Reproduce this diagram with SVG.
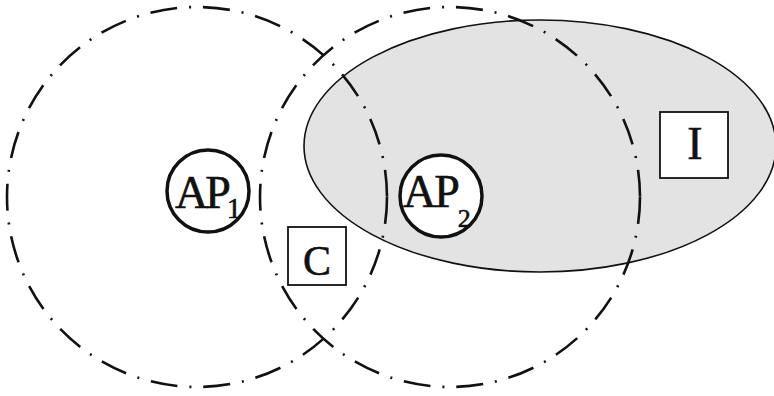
<svg xmlns="http://www.w3.org/2000/svg" width="774" height="396" viewBox="0 0 774 396">
<style>
.range{fill:none;stroke:#111;stroke-width:2.6;stroke-dasharray:27 12 2 12}
.ap{fill:#fff;stroke:#111;stroke-width:3.5}
.box{fill:#fff;stroke:#111;stroke-width:1.8}
.t{font-family:"Liberation Serif","Times New Roman",serif;fill:#111;stroke:#111;stroke-width:0.6}
</style>
<rect width="774" height="396" fill="#fff"/>
<g id="interference-zone">
<ellipse cx="540" cy="146" rx="236" ry="126" fill="#e3e3e3" stroke="#111" stroke-width="1.6"/>
</g>
<g id="ranges">
<circle class="range" cx="197" cy="197" r="190"/>
<circle class="range" cx="450" cy="197" r="190"/>
</g>
<g id="AP1">
<circle class="ap" cx="208" cy="191" r="41"/>
<text class="t" x="175" y="208" font-size="46" letter-spacing="-3">AP<tspan dx="-1" dy="10" font-size="29" letter-spacing="0">1</tspan></text>
</g>
<g id="AP2">
<circle class="ap" cx="441" cy="196" r="41"/>
<text class="t" x="403" y="207" font-size="46" letter-spacing="-2">AP<tspan dx="0" dy="20" font-size="26" letter-spacing="0">2</tspan></text>
</g>
<g id="C">
<rect class="box" x="288" y="227" width="58" height="58"/>
<text class="t" x="317" y="275" font-size="42" text-anchor="middle">C</text>
</g>
<g id="I">
<rect class="box" x="660" y="112" width="68" height="66"/>
<text class="t" x="695" y="159" font-size="46" text-anchor="middle">I</text>
</g>
</svg>
